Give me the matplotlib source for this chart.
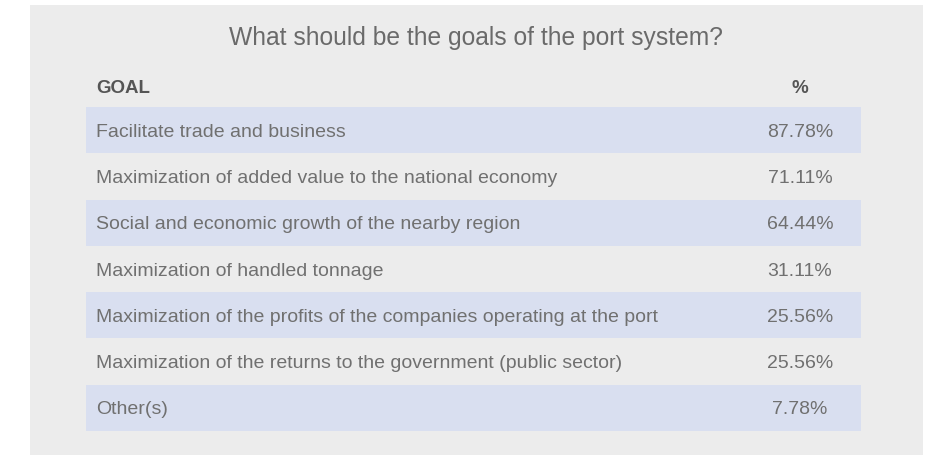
import matplotlib.pyplot as plt
from matplotlib.patches import Rectangle

# dati della tabella
title = "What should be the goals of the port system?"
header = ["GOAL", "%"]
goals = [
    "Facilitate trade and business",
    "Maximization of added value to the national economy",
    "Social and economic growth of the nearby region",
    "Maximization of handled tonnage",
    "Maximization of the profits of the companies operating at the port",
    "Maximization of the returns to the government (public sector)",
    "Other(s)",
]
percent = [87.78, 71.11, 64.44, 31.11, 25.56, 25.56, 7.78]

W, H = 932, 455
fig = plt.figure(figsize=(W / 100, H / 100), dpi=100)
plt.rcParams['font.family'] = ['Liberation Sans', 'DejaVu Sans']

# sfondo grigio del pannello
bg = fig.add_axes([0, 0, 1, 1])
bg.set_xlim(0, W)
bg.set_ylim(H, 0)
bg.axis('off')
bg.add_patch(Rectangle((30, 5), 893, 455, color='#ececec', lw=0))
bg.text(476, 38, title, ha='center', va='center', fontsize=17.7, color='#6a6a6a')

# area della tabella (pixel: x 86-861, y 107-431)
x0, x1, y0, y1 = 86, 861, 107, 431
ax = fig.add_axes([x0 / W, 1 - y1 / H, (x1 - x0) / W, (y1 - y0) / H])
n = len(goals)
ax.set_xlim(0, 1)
ax.set_ylim(n - 0.5, -0.5)
ax.axis('off')

rows = list(range(n))
band_rows = [r for r in rows if r % 2 == 0]
ax.barh(band_rows, [1] * len(band_rows), height=1, left=0, color='#d9dff0', lw=0)

val_x = (800 - x0) / (x1 - x0)
txt_x = (96 - x0) / (x1 - x0)
for r, g, p in zip(rows, goals, percent):
    ax.text(txt_x, r, g, ha='left', va='center_baseline', fontsize=14, color='#707070')
    ax.text(val_x, r, f"{p:.2f}%", ha='center', va='center_baseline', fontsize=14, color='#707070')

ax.text(txt_x, -0.95, header[0], ha='left', va='center_baseline', fontsize=13.5,
        fontweight='bold', color='#555555', clip_on=False)
ax.text(val_x, -0.95, header[1], ha='center', va='center_baseline', fontsize=13.5,
        fontweight='bold', color='#555555', clip_on=False)

fig.savefig('out.png', dpi=100)
